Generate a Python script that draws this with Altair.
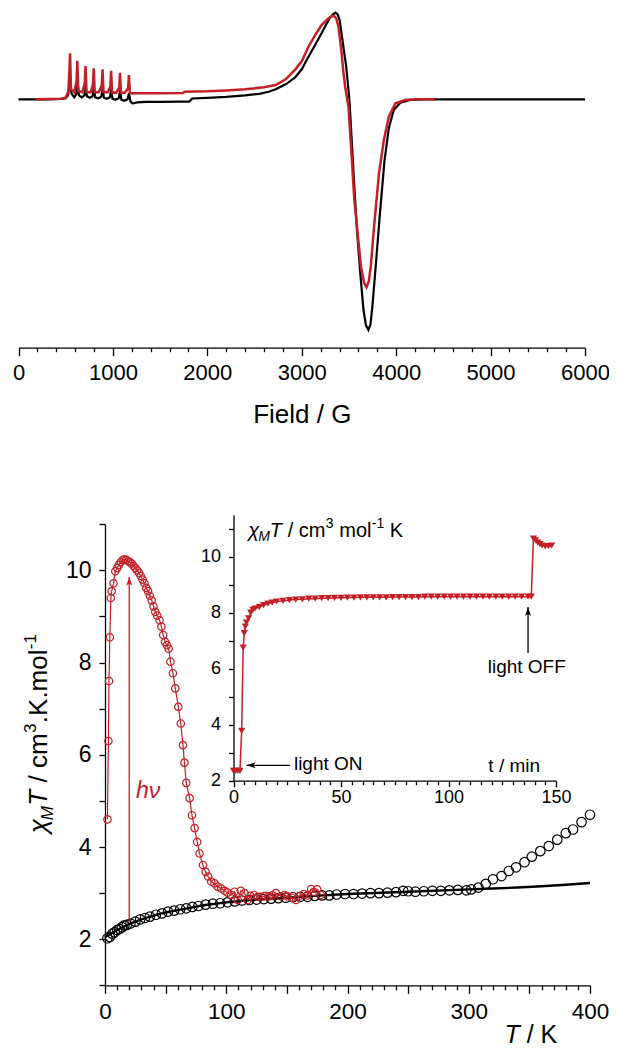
import altair as alt
import pandas as pd

# ---------------- data: EPR spectra (top panel) ----------------
epr_black_field = [0, 300, 450, 500, 525, 540, 548, 560, 590, 612, 628, 640, 670, 698, 712, 725,
                   755, 785, 799, 812, 845, 877, 892, 905, 935, 968, 983, 995, 1025, 1062, 1077,
                   1090, 1120, 1155, 1170, 1185, 1205, 1225, 1260, 1350, 1500, 1700, 1810, 1840,
                   2000, 2200, 2400, 2550, 2650, 2724, 2830, 2932, 3000, 3071, 3140, 3210, 3260,
                   3297, 3330, 3359, 3380, 3401, 3436, 3471, 3505, 3529, 3557, 3585, 3620, 3654,
                   3680, 3706, 3728, 3748, 3783, 3828, 3877, 3922, 3974, 4044, 4148, 4300, 5000, 6000]
epr_black_signal = [0, 0, 0.3, 1, 4, 16, 20, 6, 2, 5, 16, 4, 2, 4, 13, 3,
                    1.5, 3, 12, 2, 1, 2.5, 11, 1.5, 0.5, 2, 10, 0.5, -0.5, 1, 9,
                    -0.5, -1.5, 0, 6, -2, -4, -3.8, -3, -2.6, -2.5, -2.4, -2.3, 0.8,
                    1.5, 2.5, 4, 5.5, 7.5, 10, 15, 22, 30, 42.6, 54, 66, 75,
                    81, 85, 86.6, 85, 79.3, 56, 32.6, -0.7, -40.7, -87.4, -130.7, -174, -210.7,
                    -226, -230.7, -225, -207.4, -167.4, -114, -60.7, -29, -10.7, -3.4, -0.7, 0, 0, 0]
epr_red_field = [180, 450, 500, 528, 540, 546, 556, 590, 615, 623, 633, 675, 702, 710, 720, 765,
                 789, 797, 807, 850, 882, 890, 900, 945, 973, 981, 991, 1035, 1067, 1075, 1085,
                 1125, 1161, 1169, 1180, 1250, 1500, 1740, 1760, 2000, 2200, 2400, 2600, 2724,
                 2830, 2932, 3000, 3071, 3140, 3210, 3260, 3297, 3320, 3342, 3365, 3390, 3419,
                 3440, 3460, 3495, 3529, 3557, 3592, 3627, 3662, 3686, 3710, 3731, 3766, 3818,
                 3870, 3922, 3992, 4096, 4200, 4410]
epr_red_signal = [0, 0.5, 1.5, 8, 30, 46, 10, 7, 18, 38.6, 8, 7, 16, 33.3, 7, 7,
                  15, 31, 7, 7, 14, 30, 7, 7, 13, 28.6, 7, 6.5, 12, 26.6, 6.5,
                  6.5, 11, 24.3, 6, 6, 6, 6.2, 7.6, 8, 8.8, 10, 12, 14.3,
                  20, 30, 38, 52.6, 64, 74.3, 79, 82, 83, 83.3, 81, 72, 49.3,
                  28, 12.6, -7.4, -57.4, -100.7, -134, -167.4, -184, -188, -182, -167.4, -127.4, -74,
                  -40.7, -17.4, -4, -0.7, 0, 0]

# ---------------- data: chi_M T vs T (main panel) ----------------
chi_black_T = [2, 4, 6, 8, 10, 12, 14, 16, 18, 21, 25, 29, 33, 37, 42, 47, 52, 57, 62, 67,
               72, 77, 83, 89, 95, 101, 107, 113, 119, 125, 131, 137, 143, 149, 155, 161, 167,
               173, 179, 185, 191, 198, 205, 212, 219, 226, 233, 240, 246, 250, 256, 263, 270,
               277, 284, 291, 298, 302, 308, 314, 320, 327, 333, 339, 346, 352, 359, 366, 373,
               380, 386, 393, 400]
chi_black_val = [2.02, 2.05, 2.12, 2.15, 2.2, 2.22, 2.26, 2.3, 2.31, 2.34, 2.38, 2.43, 2.46, 2.49,
                 2.53, 2.56, 2.6, 2.62, 2.65, 2.67, 2.7, 2.72, 2.75, 2.77, 2.78, 2.8, 2.82, 2.84,
                 2.85, 2.86, 2.87, 2.88, 2.89, 2.9, 2.91, 2.92, 2.92, 2.94, 2.95, 2.95, 2.97, 2.98,
                 2.98, 2.99, 3.0, 3.0, 3.01, 3.02, 3.05, 3.04, 3.03, 3.04, 3.05, 3.05, 3.06, 3.07,
                 3.06, 3.08, 3.12, 3.2, 3.3, 3.37, 3.48, 3.56, 3.67, 3.79, 3.91, 4.02, 4.16, 4.3,
                 4.38, 4.54, 4.7]
fit_T = [0, 5, 10, 20, 30, 40, 50, 60, 70, 80, 100, 120, 150, 180, 200, 250, 300, 320, 340, 360, 380, 400]
fit_val = [2.05, 2.12, 2.2, 2.33, 2.43, 2.51, 2.58, 2.63, 2.68, 2.73, 2.8, 2.85, 2.9, 2.95, 2.98,
           3.03, 3.08, 3.1, 3.12, 3.15, 3.18, 3.22]
chi_red_T = [2, 2.8, 3.3, 4, 4.8, 5.5, 7, 8.5, 10, 11.5, 13, 14.5, 16, 17.5, 19, 20.5, 22, 23.5,
             25, 26.5, 28, 29.5, 31, 32.5, 34, 35.5, 37, 38.5, 40, 41.5, 43, 45, 46.5, 48, 49.5,
             51, 52.5, 54, 56, 58, 60.5, 62.5, 64.3, 65.5, 67, 69.8, 71.7, 73.9, 76, 78, 80.8,
             83, 85, 87.6, 90.3, 93, 95.8, 98.6, 101, 104, 106.8, 109.5, 112, 115, 117.7, 120,
             123, 126, 129, 132, 135, 138, 141, 145, 148, 150.6, 154, 157.5, 160, 164, 167, 170,
             172.5, 175, 178]
chi_red_val = [4.6, 6.3, 7.6, 8.55, 9.4, 9.55, 9.72, 9.98, 10.05, 10.12, 10.18, 10.22, 10.24,
               10.23, 10.2, 10.18, 10.15, 10.1, 10.05, 10.0, 9.95, 9.88, 9.8, 9.72, 9.62, 9.55,
               9.45, 9.35, 9.22, 9.1, 9.02, 8.92, 8.78, 8.6, 8.45, 8.38, 8.3, 8.02, 7.77, 7.44,
               7.04, 6.68, 6.21, 5.83, 5.39, 5.06, 4.69, 4.41, 4.11, 3.86, 3.61, 3.46, 3.36, 3.25,
               3.21, 3.14, 3.1, 3.05, 3.01, 2.96, 3.03, 2.85, 3.05, 3.0, 2.85, 2.94, 2.96, 2.92,
               2.92, 2.94, 2.93, 2.95, 3.0, 2.93, 2.96, 2.93, 2.9, 2.85, 2.93, 2.98, 2.95, 3.09,
               3.02, 3.08, 2.96]

# ---------------- data: inset chi_M T vs time ----------------
inset_t = [0, 1, 2, 3, 3.8, 4.5, 5, 5.5, 6, 7, 8, 9, 10, 12, 14, 16, 18, 20, 23, 26, 29, 32, 35,
           38, 41, 44, 47, 50, 53, 56, 59, 62, 65, 68, 71, 74, 77, 80, 83, 86, 89, 92, 95, 98,
           101, 104, 107, 110, 113, 116, 119, 122, 125, 128, 131, 134, 137, 138.5, 139.5, 140.5,
           141.5, 142.5, 143.5, 145, 146.5, 148]
inset_val = [2.35, 2.35, 2.35, 2.35, 3.78, 6.75, 7.27, 7.5, 7.65, 7.8, 8.0, 8.1, 8.15, 8.2, 8.27,
             8.32, 8.36, 8.4, 8.42, 8.45, 8.47, 8.48, 8.5, 8.5, 8.52, 8.52, 8.53, 8.53, 8.54, 8.54,
             8.55, 8.55, 8.55, 8.55, 8.55, 8.56, 8.56, 8.56, 8.56, 8.56,
             8.57, 8.57, 8.57, 8.57, 8.57, 8.57, 8.57, 8.57, 8.57, 8.57, 8.57, 8.57, 8.57, 8.57,
             8.57, 8.57, 8.57, 8.57,
             10.65, 10.58, 10.5, 10.45, 10.4, 10.37, 10.38, 10.4]

# tick positions
field_ticks = list(range(0, 6001, 200))
T_ticks = list(range(0, 401, 10))
chi_ticks = [1 + 0.5 * i for i in range(21)]
t_ticks = list(range(0, 151, 5))
inset_chi_ticks = [2 + 0.5 * i for i in range(20)]

# ---------------- layout / style ----------------
W, H = 601, 1040
RED = "#c41f26"
FONT = "Liberation Sans"
ARROW = "M 0 0 L 0.8 2.4 L 0 1.8 L -0.8 2.4 Z"
SP = "\u00a0"


def make_axis(orient, offset, values, major, major_size, minor_size, labels, fsize, pad, **extra):
    return alt.Axis(
        orient=orient, offset=offset, values=values, grid=False, format="d",
        domainColor="black", domainWidth=1.3, tickColor="black", tickWidth=1.3,
        tickSize={"condition": {"test": major, "value": major_size}, "value": minor_size},
        labelExpr=f"({labels}) ? datum.label : ''",
        labelFont=FONT, labelFontSize=fsize, labelColor="black", labelPadding=pad,
        labelFlush=False, labelOverlap=False, **extra)


# top panel scales / axes
top_xs = alt.Scale(domain=[0, 6000], range=[10.5, 577], nice=False, zero=False)
top_ys = alt.Scale(domain=[-248, 91], range=[339.3, 0.3], nice=False, zero=False)
top_ax = make_axis("bottom", 339.7 - H, field_ticks, "datum.value % 1000 === 0", 8, 4,
                   "datum.value % 1000 === 0", 22, 7, title="Field / G", titleFont=FONT,
                   titleFontSize=26, titleFontWeight="normal", titleColor="black", titlePadding=18)
tX = alt.X("x:Q", scale=top_xs, axis=top_ax)
tY = alt.Y("y:Q", scale=top_ys, axis=None)

# main panel
m_xs = alt.Scale(domain=[0, 400], range=[97, 582], nice=False, zero=False)
m_ys = alt.Scale(domain=[1, 11], range=[977.3, 516.3], nice=False, zero=False)
m_xax = make_axis("bottom", 977.3 - H, T_ticks, "datum.value % 50 === 0", 8, 4.5,
                  "datum.value % 100 === 0", 22.5, 7, title=None)
m_yax = make_axis("left", -97, chi_ticks, "datum.value % 1 === 0", 6, 4,
                  "datum.value % 2 === 0", 23, 8, title=None)
mX = alt.X("x:Q", scale=m_xs, axis=m_xax)
mY = alt.Y("y:Q", scale=m_ys, axis=m_yax)

# inset
i_xs = alt.Scale(domain=[0, 150], range=[225.5, 548], nice=False, zero=False)
i_ys = alt.Scale(domain=[2, 11.5], range=[772.7, 506.7], nice=False, zero=False)
i_xax = make_axis("bottom", 772.7 - H, t_ticks, "datum.value % 50 === 0", 6, 4,
                  "datum.value % 50 === 0", 18, 2, title=None)
i_yax = make_axis("left", -225.5, inset_chi_ticks, "datum.value % 1 === 0", 5, 3.5,
                  "datum.value % 2 === 0", 18, 8, title=None)
iX = alt.X("x:Q", scale=i_xs, axis=i_xax)
iY = alt.Y("y:Q", scale=i_ys, axis=i_yax)


def pt(x, y):
    return pd.DataFrame({"x": [x], "y": [y]})


def label(x_enc, y_enc, x, y, text, size, dx=0, dy=0, style="normal", color="black",
          align="left", angle=0):
    kw = dict(text=text, font=FONT, fontSize=size, dx=dx, dy=dy, fontStyle=style,
              color=color, align=align, baseline="alphabetic")
    if angle:
        kw["angle"] = angle
    return alt.Chart(pt(x, y)).mark_text(**kw).encode(x=x_enc, y=y_enc)


# ---------------- top panel ----------------
df_eb = pd.DataFrame({"x": epr_black_field, "y": epr_black_signal})
df_er = pd.DataFrame({"x": epr_red_field, "y": epr_red_signal})
top = alt.layer(
    alt.Chart(df_eb).mark_line(color="black", strokeWidth=2.2).encode(x=tX, y=tY),
    alt.Chart(df_er).mark_line(color=RED, strokeWidth=2.5).encode(x=tX, y=tY),
)

# ---------------- main panel ----------------
df_fit = pd.DataFrame({"x": fit_T, "y": fit_val})
df_blk = pd.DataFrame({"x": chi_black_T, "y": chi_black_val})
df_red = pd.DataFrame({"x": chi_red_T, "y": chi_red_val})
hv_arrow = pd.DataFrame({"x": [20], "y": [2.38], "y2": [9.86]})

main_layers = [
    alt.Chart(df_fit).mark_line(color="black", strokeWidth=2.4).encode(x=mX, y=mY),
    alt.Chart(df_blk).mark_point(shape="circle", filled=False, size=90, color="black",
                                 strokeWidth=1.2, opacity=1).encode(x=mX, y=mY),
    alt.Chart(df_red).mark_line(color=RED, strokeWidth=1.2).encode(x=mX, y=mY),
    alt.Chart(df_red).mark_point(shape="circle", filled=False, size=55, color=RED,
                                 strokeWidth=1.2, opacity=1).encode(x=mX, y=mY),
    alt.Chart(hv_arrow).mark_rule(color=RED, strokeWidth=1.3).encode(
        x=mX, y=mY, y2=alt.Y2("y2:Q")),
    alt.Chart(pt(20, 9.86)).mark_point(shape=ARROW, filled=True, size=56, color=RED,
                                       opacity=1, strokeWidth=0).encode(x=mX, y=mY),
    label(mX, mY, 25.5, 5.06, "hν", 23, style="italic", color=RED),
]
# y-axis title (rotated, composed)
YT = (-47.6, 4.3)
main_layers += [
    label(mX, mY, *YT, "χ", 26, dx=0, style="italic", angle=270),
    label(mX, mY, *YT, "M", 17, dx=13, dy=6, style="italic", angle=270),
    label(mX, mY, *YT, "T", 26, dx=27.5, style="italic", angle=270),
    label(mX, mY, *YT, f"/{SP}cm", 26, dx=50.6, angle=270),
    label(mX, mY, *YT, "3", 17, dx=100.2, dy=-11, angle=270),
    label(mX, mY, *YT, ".K.mol", 26, dx=110, angle=270),
    label(mX, mY, *YT, "-1", 17, dx=184, dy=-11, angle=270),
]
# x-axis title
XT = (329.4, -0.25)
main_layers += [
    label(mX, mY, *XT, "T", 25, style="italic"),
    label(mX, mY, *XT, f"/{SP}K", 25, dx=22.3),
]
main = alt.layer(*main_layers)

# ---------------- inset ----------------
df_in = pd.DataFrame({"x": inset_t, "y": inset_val})
on_arrow = pd.DataFrame({"x": [6.1], "x2": [26.3], "y": [2.55]})
off_arrow = pd.DataFrame({"x": [137], "y": [6.56], "y2": [8.2]})
IT = (6.9, 10.71)
inset = alt.layer(
    alt.Chart(df_in).mark_line(color=RED, strokeWidth=1.5).encode(x=iX, y=iY),
    alt.Chart(df_in).mark_point(shape="triangle-down", filled=True, size=52, color=RED,
                                opacity=1).encode(x=iX, y=iY),
    alt.Chart(on_arrow).mark_rule(color="black", strokeWidth=1.3).encode(
        x=iX, x2=alt.X2("x2:Q"), y=iY),
    alt.Chart(pt(6.1, 2.55)).mark_point(shape=ARROW, filled=True, size=56, color="black",
                                        opacity=1, strokeWidth=0, angle=270).encode(x=iX, y=iY),
    alt.Chart(off_arrow).mark_rule(color="black", strokeWidth=1.3).encode(
        x=iX, y=iY, y2=alt.Y2("y2:Q")),
    alt.Chart(pt(137, 8.2)).mark_point(shape=ARROW, filled=True, size=56, color="black",
                                       opacity=1, strokeWidth=0).encode(x=iX, y=iY),
    label(iX, iY, 28.1, 2.38, "light ON", 19),
    label(iX, iY, 136.4, 5.86, "light OFF", 19, align="center"),
    label(iX, iY, 142.6, 2.3, "t / min", 19, align="right"),
    label(iX, iY, *IT, "χ", 20, style="italic"),
    label(iX, iY, *IT, "M", 14, dx=10, dy=4, style="italic"),
    label(iX, iY, *IT, "T", 20, dx=21.5, style="italic"),
    label(iX, iY, *IT, f"/{SP}cm", 20, dx=39.3),
    label(iX, iY, *IT, "3", 14, dx=77.5, dy=-8.5),
    label(iX, iY, *IT, "mol", 20, dx=90.9),
    label(iX, iY, *IT, "-1", 14, dx=123.5, dy=-8.5),
    label(iX, iY, *IT, "K", 20, dx=141.5),
)

chart = alt.layer(top, main, inset).resolve_scale(
    x="independent", y="independent"
).properties(
    width=W, height=H, padding=0, autosize=alt.AutoSizeParams(type="none")
).configure_view(stroke=None)

chart.save("out.html", embed_options={"renderer": "svg", "actions": False})
